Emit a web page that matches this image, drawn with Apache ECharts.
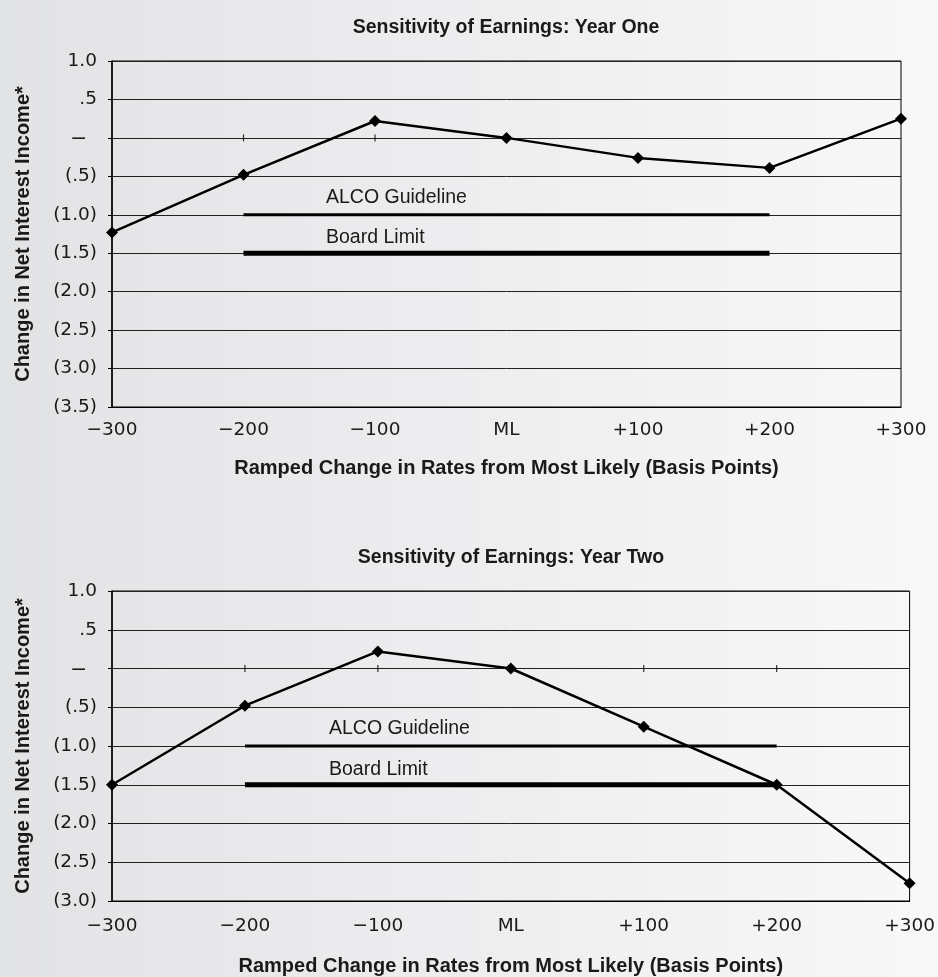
<!DOCTYPE html>
<html>
<head>
<meta charset="utf-8">
<script src="https://cdn.jsdelivr.net/npm/echarts@6/dist/echarts.min.js"></script>
<style>
html,body{margin:0;padding:0;}
#c{width:938px;height:977px;}
</style>
</head>
<body>
<div id="c"></div>
<script>
// ---- data ----
var rates = [-300, -200, -100, 0, 100, 200, 300];
var xTickLabels = ['\u2212300', '\u2212200', '\u2212100', 'ML', '+100', '+200', '+300'];
var yearOne = [-1.23, -0.48, 0.22, 0.0, -0.26, -0.39, 0.25];
var yearTwo = [-1.5, -0.48, 0.22, 0.0, -0.75, -1.5, -2.77];
var guideRange = [-200, 200];
var alcoGuideline = -1.0;
var boardLimit = -1.5;
var yTickValues = [1.0, 0.5, 0, -0.5, -1.0, -1.5, -2.0, -2.5, -3.0, -3.5];
var yTickLabels = ['1.0', '.5', '\u2013', '(.5)', '(1.0)', '(1.5)', '(2.0)', '(2.5)', '(3.0)', '(3.5)'];
var zeroTicksOne = [-200, -100];
var zeroTicksTwo = [-200, -100, 100, 200];
var titles = ['Sensitivity of Earnings: Year One', 'Sensitivity of Earnings: Year Two'];
var yName = 'Change in Net Interest Income*';
var xName = 'Ramped Change in Rates from Most Likely (Basis Points)';
var guideNames = ['ALCO Guideline', 'Board Limit'];

// ---- helpers ----
var FONT = "'Liberation Sans', Arial, sans-serif";
var TICKFONT = "'DejaVu Sans', 'Liberation Sans', sans-serif";
var TXT = '#1a1a1a';
function fmtX(v) { var i = rates.indexOf(Math.round(v)); return i >= 0 ? xTickLabels[i] : ''; }
function fmtY(v) {
  var r = Math.round(v * 10) / 10;
  for (var i = 0; i < yTickValues.length; i++) {
    if (Math.abs(yTickValues[i] - r) < 1e-6) {
      return r === 0 ? '{d|' + yTickLabels[i] + '}' : yTickLabels[i];
    }
  }
  return '';
}
function pairs(xs, ys) { return xs.map(function (x, i) { return [x, ys[i]]; }); }
function flat(xs, v) { return xs.map(function (x) { return [x, v]; }); }

var chart = echarts.init(document.getElementById('c'), null, {renderer: 'canvas'});

function xAxisCfg(gi, gap, margin) {
  return {
    type: 'value', gridIndex: gi, min: -300, max: 300, interval: 100,
    axisLine: {show: true, onZero: false, lineStyle: {color: '#000', width: 1}},
    axisTick: {show: false}, splitLine: {show: false},
    axisLabel: {formatter: fmtX, color: TXT, fontFamily: TICKFONT, fontSize: 18.5, margin: margin},
    name: xName, nameLocation: 'middle', nameGap: gap,
    nameTextStyle: {fontFamily: FONT, fontSize: 20, fontWeight: 'bold', color: TXT}
  };
}
function yAxisCfg(gi, min) {
  return {
    type: 'value', gridIndex: gi, min: min, max: 1, interval: 0.5,
    axisLine: {show: true, onZero: false, lineStyle: {color: '#000', width: 1.5}},
    axisTick: {show: true, length: 4, lineStyle: {color: '#000'}},
    splitLine: {show: true, lineStyle: {color: '#222', width: 1}},
    axisLabel: {formatter: fmtY, color: TXT, fontFamily: TICKFONT, fontSize: 18.5, margin: 15,
      rich: {d: {fontFamily: FONT, fontSize: 23, color: TXT, padding: [0, 12, 0, 0]}}},
    name: yName, nameLocation: 'middle', nameGap: 79,
    nameTextStyle: {fontFamily: FONT, fontSize: 20, fontWeight: 'bold', color: TXT}
  };
}
function mainSeries(gi, ys) {
  return {
    type: 'line', xAxisIndex: gi, yAxisIndex: gi, data: pairs(rates, ys),
    symbol: 'diamond', symbolSize: 12, showSymbol: true,
    lineStyle: {color: '#000', width: 2.5}, itemStyle: {color: '#000'},
    z: 5, animation: false, silent: true
  };
}
function guideSeries(gi, v, w) {
  return {
    type: 'line', xAxisIndex: gi, yAxisIndex: gi, data: flat(guideRange, v),
    symbol: 'none', lineStyle: {color: '#000', width: w}, z: 4, animation: false, silent: true
  };
}
function tickSeries(gi, xs) {
  return {
    type: 'scatter', xAxisIndex: gi, yAxisIndex: gi, data: flat(xs, 0),
    symbol: 'rect', symbolSize: [1.2, 7], itemStyle: {color: '#000'}, z: 3, animation: false, silent: true
  };
}

var option = {
  backgroundColor: new echarts.graphic.LinearGradient(0, 0, 1, 0, [
    {offset: 0, color: '#e2e3e5'}, {offset: 1, color: '#f8f8f9'}
  ]),
  animation: false,
  title: [
    {text: titles[0], left: 501, top: 13, textAlign: 'center',
     textStyle: {fontFamily: FONT, fontSize: 19.5, fontWeight: 'bold', color: TXT}},
    {text: titles[1], left: 506, top: 543, textAlign: 'center',
     textStyle: {fontFamily: FONT, fontSize: 19.5, fontWeight: 'bold', color: TXT}}
  ],
  grid: [
    {left: 112, top: 61, width: 789, height: 346, show: true, borderColor: '#000', borderWidth: 1, backgroundColor: 'transparent'},
    {left: 112, top: 591, width: 801, height: 312, show: true, borderColor: '#000', borderWidth: 1, backgroundColor: 'transparent'}
  ],
  xAxis: [xAxisCfg(0, 51, 14), xAxisCfg(1, 55, 16)],
  yAxis: [yAxisCfg(0, -3.5), yAxisCfg(1, -3.0)],
  series: [
    guideSeries(0, alcoGuideline, 3), guideSeries(0, boardLimit, 5), tickSeries(0, zeroTicksOne), mainSeries(0, yearOne),
    guideSeries(1, alcoGuideline, 3), guideSeries(1, boardLimit, 5), tickSeries(1, zeroTicksTwo), mainSeries(1, yearTwo)
  ],
  graphic: [
    {type: 'text', left: 326, top: 188, style: {text: guideNames[0], font: '19.5px ' + FONT, fill: TXT}},
    {type: 'text', left: 326, top: 228, style: {text: guideNames[1], font: '19.5px ' + FONT, fill: TXT}},
    {type: 'text', left: 329, top: 719, style: {text: guideNames[0], font: '19.5px ' + FONT, fill: TXT}},
    {type: 'text', left: 329, top: 760, style: {text: guideNames[1], font: '19.5px ' + FONT, fill: TXT}}
  ]
};
chart.setOption(option);
</script>
</body>
</html>
